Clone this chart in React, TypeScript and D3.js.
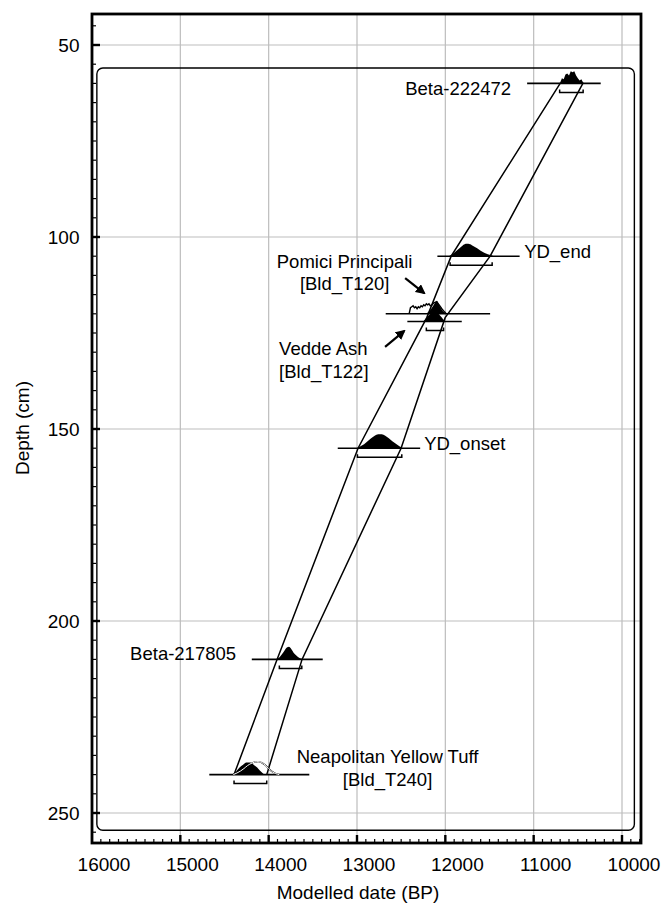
import React, { useEffect, useRef } from "react";
import * as d3 from "d3";

// dated items: depth (cm), full range line (BP), 95% bracket (BP)
const sampleNames = ["Beta-222472", "YD_end", "Pomici", "Vedde", "YD_onset", "Beta-217805", "NYT"];
const sampleDepths = [60, 105, 120, 122, 155, 210, 240];
const rangeFrom = [11074, 12090, 12675, 12430, 13218, 14191, 14672];
const rangeTo = [10241, 11159, 11493, 11814, 12285, 13388, 13540];
const bracketFrom = [10706, 11946, null, 12215, 12995, 13879, 14392];
const bracketTo = [10440, 11470, null, 12020, 12493, 13625, 14022];

// posterior (filled) distributions, [year BP, relative probability]
const postBeta222472 = [[10720, 0], [10700, 7], [10680, 36], [10660, 29], [10640, 64], [10620, 71], [10600, 57], [10580, 86], [10560, 79], [10540, 86], [10520, 57], [10500, 36], [10480, 21], [10460, 29], [10440, 7], [10420, 0]];
const postYDend = [[11960, 0], [11920, 14], [11880, 36], [11840, 57], [11800, 79], [11760, 89], [11720, 86], [11680, 71], [11640, 57], [11600, 39], [11560, 25], [11520, 14], [11480, 7], [11450, 0]];
const postPomici = [[12215, 0], [12190, 14], [12160, 36], [12130, 64], [12110, 86], [12095, 93], [12080, 79], [12060, 50], [12040, 29], [12020, 14], [11990, 0]];
const postVedde = [[12250, 0], [12220, 21], [12190, 43], [12160, 57], [12130, 64], [12100, 64], [12070, 50], [12040, 29], [12010, 7], [11990, 0]];
const postYDonset = [[13000, 0], [12960, 14], [12920, 29], [12880, 50], [12840, 71], [12800, 89], [12760, 100], [12720, 100], [12680, 89], [12640, 71], [12600, 50], [12560, 32], [12520, 14], [12480, 0]];
const postBeta217805 = [[13920, 0], [13880, 14], [13850, 36], [13820, 64], [13790, 86], [13770, 90], [13750, 79], [13720, 50], [13690, 29], [13660, 14], [13630, 4], [13610, 0]];
const postNYT = [[14410, 0], [14370, 21], [14330, 50], [14290, 71], [14250, 86], [14210, 86], [14170, 71], [14130, 50], [14100, 29], [14070, 11], [14050, 0]];

// prior (outline) distributions
const priorPomici = [[12410, 0], [12395, 43], [12380, 50], [12365, 57], [12350, 43], [12335, 50], [12320, 36], [12305, 50], [12290, 43], [12275, 57], [12260, 50], [12245, 64], [12230, 57], [12215, 71], [12200, 64], [12185, 71], [12170, 57], [12150, 64], [12130, 79], [12100, 86], [12070, 64], [12040, 36], [12010, 14], [11990, 0]];
const priorNYT = [[14400, 0], [14360, 11], [14320, 25], [14280, 43], [14240, 64], [14200, 79], [14160, 89], [14120, 93], [14080, 86], [14040, 68], [14000, 43], [13960, 21], [13920, 7], [13880, 0]];

// age-depth envelope (95%)
const envDepth = [60, 105, 121, 155, 210, 240];
const envOlder = [10700, 11934, 12210, 12988, 13905, 14392];
const envYounger = [10443, 11493, 12002, 12501, 13622, 14022];

// text annotations: text, year, depth (baseline), anchor
const labelText = ["Beta-222472", "YD_end", "Pomici Principali", "[Bld_T120]", "Vedde Ash", "[Bld_T122]", "YD_onset", "Beta-217805", "Neapolitan Yellow Tuff", "[Bld_T240]"];
const labelYear = [11255, 11108, 13140, 13140, 13882, 13882, 12240, 14369, 12654, 12654];
const labelDepth = [63.0, 105.5, 108.1, 113.8, 130.7, 136.7, 155.5, 210.2, 237.0, 243.0];
const labelAnchor = ["end", "start", "middle", "middle", "start", "start", "start", "end", "middle", "middle"];

// arrows: from [year, depth] to [year, depth]
const arrowFrom = [[12455, 110.7], [12682, 128.6]];
const arrowTo = [[12240, 114.6], [12467, 124.5]];

const xTicks = [16000, 15000, 14000, 13000, 12000, 11000, 10000];
const yTicks = [50, 100, 150, 200, 250];

const posteriors = [postBeta222472, postYDend, postPomici, postVedde, postYDonset, postBeta217805, postNYT];
const priors = [null, null, priorPomici, null, null, null, priorNYT];
const jagged = [true, false, false, false, false, false, false];

const FONT = "'Liberation Sans', Arial, sans-serif";

export default function App() {
  const svgRef = useRef(null);

  useEffect(() => {
    document.body.style.margin = "0";
    const width = 662;
    const height = 904;
    const frame = { left: 92, right: 641, top: 14, bottom: 843 };

    const svg = d3.select(svgRef.current).attr("width", width).attr("height", height);
    svg.selectAll("*").remove();

    const x = d3.scaleLinear().domain([16000, 10000]).range([frame.left, 622]);
    const y = d3.scaleLinear().domain([50, 250]).range([45, 813]);
    const p = d3.scaleLinear().domain([0, 100]).range([0, 14]);

    svg.append("rect").attr("width", width).attr("height", height).attr("fill", "#fff");

    svg.append("defs")
      .append("marker")
      .attr("id", "arrowhead")
      .attr("viewBox", "0 0 10 10")
      .attr("refX", 8)
      .attr("refY", 5)
      .attr("markerWidth", 4.5)
      .attr("markerHeight", 4.5)
      .attr("markerUnits", "strokeWidth")
      .attr("orient", "auto")
      .append("path")
      .attr("d", "M0,0 L10,5 L0,10 z")
      .attr("fill", "#000");

    // grid
    svg.append("g")
      .selectAll("line")
      .data(xTicks.slice(1))
      .join("line")
      .attr("x1", (d) => x(d))
      .attr("x2", (d) => x(d))
      .attr("y1", frame.top)
      .attr("y2", frame.bottom)
      .attr("stroke", "#bdbdbd")
      .attr("stroke-width", 1.2);

    svg.append("g")
      .selectAll("line")
      .data(yTicks)
      .join("line")
      .attr("x1", frame.left)
      .attr("x2", frame.right)
      .attr("y1", (d) => y(d))
      .attr("y2", (d) => y(d))
      .attr("stroke", "#bdbdbd")
      .attr("stroke-width", 1.2);

    // model box
    svg.append("rect")
      .attr("x", x(15945))
      .attr("y", y(56))
      .attr("width", x(9860) - x(15945))
      .attr("height", y(254.5) - y(56))
      .attr("rx", 6)
      .attr("fill", "none")
      .attr("stroke", "#000")
      .attr("stroke-width", 1.4);

    // envelope
    const envLine = d3.line().x((d) => x(d[0])).y((d) => y(d[1]));
    [envOlder, envYounger].forEach((arr) => {
      svg.append("path")
        .attr("d", envLine(arr.map((v, i) => [v, envDepth[i]])))
        .attr("fill", "none")
        .attr("stroke", "#000")
        .attr("stroke-width", 1.5);
    });

    // samples
    sampleNames.forEach((name, i) => {
      const d0 = y(sampleDepths[i]);
      const g = svg.append("g").attr("class", name);

      g.append("line")
        .attr("x1", x(rangeFrom[i]))
        .attr("x2", x(rangeTo[i]))
        .attr("y1", d0)
        .attr("y2", d0)
        .attr("stroke", "#000")
        .attr("stroke-width", 1.6);

      const area = d3.area()
        .x((d) => x(d[0]))
        .y0(d0)
        .y1((d) => d0 - p(d[1]))
        .curve(jagged[i] ? d3.curveLinear : d3.curveMonotoneX);

      const priorLine = d3.line()
        .x((d) => x(d[0]))
        .y((d) => d0 - p(d[1]))
        .curve(i === 2 ? d3.curveLinear : d3.curveMonotoneX);

      if (priors[i]) {
        g.append("path")
          .attr("d", priorLine(priors[i]))
          .attr("fill", "none")
          .attr("stroke", "#000")
          .attr("stroke-width", 1.4);
      }

      g.append("path")
        .attr("d", area(posteriors[i]))
        .attr("fill", "#000");

      // prior outline shows through the filled posterior as a white line
      if (priors[i] && i === 6) {
        g.append("path")
          .attr("d", priorLine(priors[i]))
          .attr("fill", "none")
          .attr("stroke", "#fff")
          .attr("stroke-width", 1);
      }

      if (bracketFrom[i] != null) {
        const by = d0 + 9;
        const bx1 = x(bracketFrom[i]);
        const bx2 = x(bracketTo[i]);
        g.append("path")
          .attr("d", `M${bx1},${by - 3}V${by}H${bx2}V${by - 3}`)
          .attr("fill", "none")
          .attr("stroke", "#000")
          .attr("stroke-width", 1.5);
      }
    });

    // labels
    svg.append("g")
      .selectAll("text")
      .data(labelText)
      .join("text")
      .attr("x", (d, i) => x(labelYear[i]))
      .attr("y", (d, i) => y(labelDepth[i]))
      .attr("text-anchor", (d, i) => labelAnchor[i])
      .attr("font-family", FONT)
      .attr("font-size", "18.5px")
      .attr("fill", "#000")
      .text((d) => d);

    // arrows
    arrowFrom.forEach((a, i) => {
      svg.append("line")
        .attr("x1", x(a[0]))
        .attr("y1", y(a[1]))
        .attr("x2", x(arrowTo[i][0]))
        .attr("y2", y(arrowTo[i][1]))
        .attr("stroke", "#000")
        .attr("stroke-width", 2.2)
        .attr("marker-end", "url(#arrowhead)");
    });

    // frame
    svg.append("rect")
      .attr("x", frame.left)
      .attr("y", frame.top)
      .attr("width", frame.right - frame.left)
      .attr("height", frame.bottom - frame.top)
      .attr("fill", "none")
      .attr("stroke", "#000")
      .attr("stroke-width", 2.8);

    // minor / major ticks
    const xMinor = d3.range(15900, 9799, -100);
    svg.append("g")
      .selectAll("line")
      .data(xMinor)
      .join("line")
      .attr("x1", (d) => x(d))
      .attr("x2", (d) => x(d))
      .attr("y1", frame.bottom)
      .attr("y2", (d) => frame.bottom - (d % 1000 === 0 ? 8 : 4))
      .attr("stroke", "#000")
      .attr("stroke-width", (d) => (d % 1000 === 0 ? 2.4 : 1.2));

    const yMinor = d3.range(45, 256, 5);
    svg.append("g")
      .selectAll("line")
      .data(yMinor)
      .join("line")
      .attr("x1", frame.left)
      .attr("x2", (d) => frame.left + (d % 50 === 0 ? 8 : 4))
      .attr("y1", (d) => y(d))
      .attr("y2", (d) => y(d))
      .attr("stroke", "#000")
      .attr("stroke-width", (d) => (d % 50 === 0 ? 2.4 : 1.2));

    // tick labels
    svg.append("g")
      .selectAll("text")
      .data(xTicks)
      .join("text")
      .attr("x", (d) => x(d) + 12)
      .attr("y", 871)
      .attr("text-anchor", "middle")
      .attr("font-family", FONT)
      .attr("font-size", "19px")
      .attr("fill", "#000")
      .text((d) => d);

    svg.append("g")
      .selectAll("text")
      .data(yTicks)
      .join("text")
      .attr("x", 79.5)
      .attr("y", (d) => y(d) + 6.7)
      .attr("text-anchor", "end")
      .attr("font-family", FONT)
      .attr("font-size", "19px")
      .attr("fill", "#000")
      .text((d) => d);

    // axis titles
    svg.append("text")
      .attr("x", 358)
      .attr("y", 899)
      .attr("text-anchor", "middle")
      .attr("font-family", FONT)
      .attr("font-size", "19px")
      .attr("fill", "#000")
      .text("Modelled date (BP)");

    svg.append("text")
      .attr("transform", "translate(29, 428) rotate(-90)")
      .attr("text-anchor", "middle")
      .attr("font-family", FONT)
      .attr("font-size", "19px")
      .attr("fill", "#000")
      .text("Depth (cm)");
  }, []);

  return (
    <div>
      <svg ref={svgRef} style={{ display: "block" }}></svg>
    </div>
  );
}
